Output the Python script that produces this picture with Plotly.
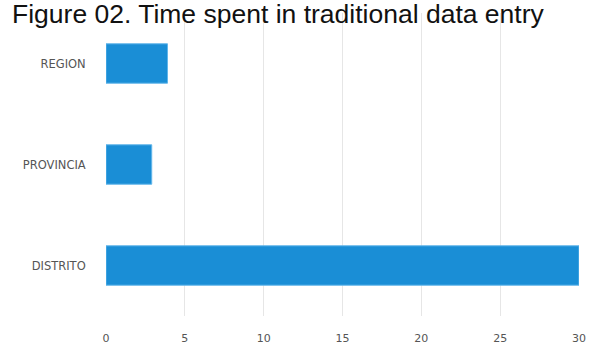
import plotly.graph_objects as go

categories = ["REGION", "PROVINCIA", "DISTRITO"]
values = [3.9, 2.9, 30]
x_ticks = [0, 5, 10, 15, 20, 25, 30]
title_text = "Figure 02. Time spent in traditional data entry"

fig = go.Figure()
fig.add_trace(go.Bar(
    y=categories, x=values, orientation="h",
    marker=dict(color="#1a8ed6", line=dict(color="#62b6ea", width=1)),
    width=0.39,
))

fig.update_layout(
    width=592, height=345,
    margin=dict(l=106, r=13, t=13, b=29),
    paper_bgcolor="white", plot_bgcolor="white",
    showlegend=False,
    bargap=0.6,
)
fig.add_annotation(text=title_text, xref="paper", yref="paper",
                   x=0, y=1, xanchor="left", yanchor="bottom",
                   xshift=-96, yshift=-18, showarrow=False,
                   font=dict(family="Arial, Liberation Sans", size=26.5, color="#111"))
fig.update_xaxes(range=[0, 30], tickvals=x_ticks, showgrid=True, gridcolor="#e6e6e6",
                 gridwidth=1, zeroline=False, showline=False, automargin=False,
                 ticks="outside", ticklen=12, tickcolor="rgba(0,0,0,0)",
                 tickfont=dict(family="DejaVu Sans", size=11, color="#555"))
fig.update_yaxes(categoryorder="array", categoryarray=categories[::-1],
                 showgrid=False, zeroline=False, showline=False, automargin=False,
                 ticks="outside", ticklen=17, tickcolor="rgba(0,0,0,0)",
                 tickfont=dict(family="DejaVu Sans", size=11.5, color="#555"))

fig.write_html("out.html")
